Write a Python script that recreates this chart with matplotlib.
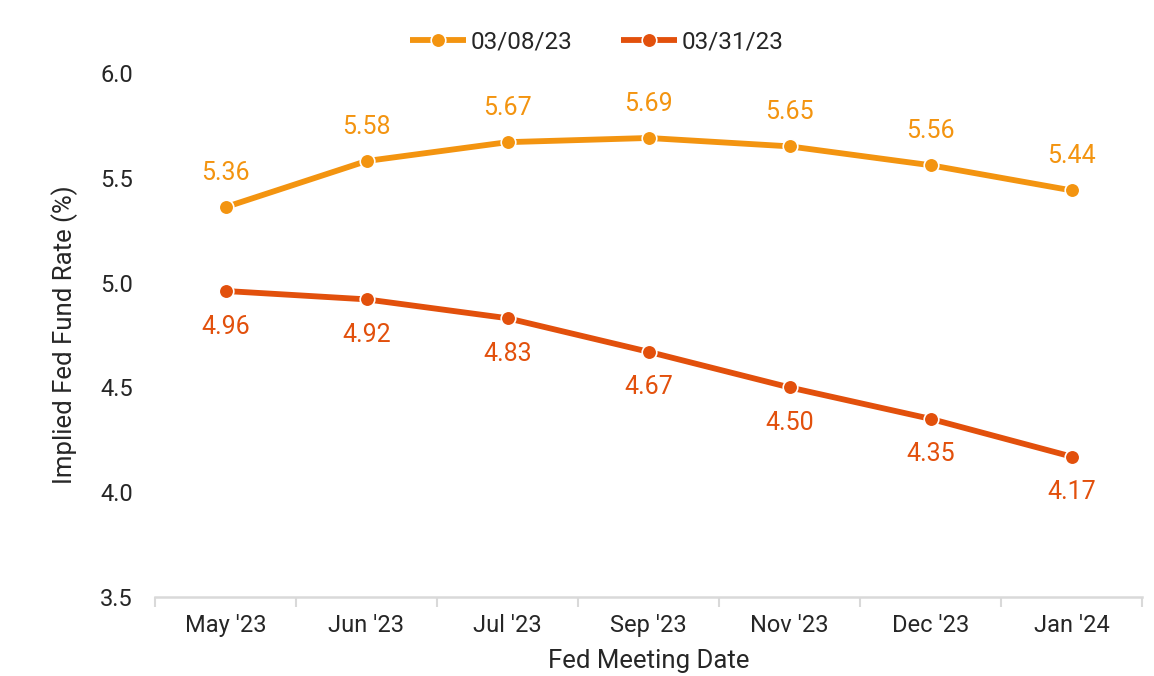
import matplotlib
matplotlib.use("Agg")
import matplotlib.pyplot as plt
import numpy as np

categories = ["May '23", "Jun '23", "Jul '23", "Sep '23", "Nov '23", "Dec '23", "Jan '24"]
series_0308 = [5.36, 5.58, 5.67, 5.69, 5.65, 5.56, 5.44]
series_0331 = [4.96, 4.92, 4.83, 4.67, 4.50, 4.35, 4.17]
yticks = [3.5, 4.0, 4.5, 5.0, 5.5, 6.0]

c1 = "#F39410"
c2 = "#E2500C"
txt = "#262626"

plt.rcParams['font.family'] = ['Roboto', 'DejaVu Sans']

fig = plt.figure(figsize=(11.54, 6.76), dpi=100)
ax = fig.add_axes([155/1154, (676-597)/676, (1142-155)/1154, (597-73)/676])

x = np.arange(len(categories))
ax.plot(x, series_0308, color=c1, lw=4.2, marker='o', ms=10.5, mfc=c1, mec='white', mew=1.2,
        label='03/08/23', solid_capstyle='butt', zorder=3)
ax.plot(x, series_0331, color=c2, lw=4.2, marker='o', ms=10.5, mfc=c2, mec='white', mew=1.2,
        label='03/31/23', solid_capstyle='butt', zorder=3)

for xi, v in zip(x, series_0308):
    ax.annotate(f"{v:.2f}", (xi, v), xytext=(0, 16), textcoords='offset points',
                ha='center', va='bottom', color=c1, fontsize=18)
for xi, v in zip(x, series_0331):
    ax.annotate(f"{v:.2f}", (xi, v), xytext=(0, -17), textcoords='offset points',
                ha='center', va='top', color=c2, fontsize=18)

ax.set_xlim(-0.5, len(categories) - 0.5)
ax.set_ylim(3.5, 6.0)
ax.set_yticks(yticks)
ax.set_yticklabels([f"{t:.1f}" for t in yticks])
ax.set_xticks(np.arange(-0.5, len(categories), 1.0))
ax.set_xticklabels([])
ax.set_xticks(x, minor=True)
ax.set_xticklabels(categories, minor=True)
ax.tick_params(axis='x', which='major', length=7, width=1.5, color='#D9D9D9', direction='out')
ax.tick_params(axis='x', which='minor', length=0, pad=12, labelsize=17, labelcolor=txt)
ax.tick_params(axis='y', length=0, pad=16, labelsize=17, labelcolor=txt)

for s in ['top', 'right', 'left']:
    ax.spines[s].set_visible(False)
ax.spines['bottom'].set_color('#D9D9D9')
ax.spines['bottom'].set_linewidth(1.8)

ax.set_ylabel("Implied Fed Fund Rate (%)", fontsize=18.5, color=txt, labelpad=16)
ax.set_xlabel("Fed Meeting Date", fontsize=18.5, color=txt, labelpad=9)

leg = fig.legend(loc='center', bbox_to_anchor=(597/1154, 1 - 42/676), ncol=2, frameon=False,
                 fontsize=17.5, handlelength=2.3, handletextpad=0.2, columnspacing=2.0)
for t in leg.get_texts():
    t.set_color(txt)

fig.savefig("out.png", dpi=100, facecolor='white')
